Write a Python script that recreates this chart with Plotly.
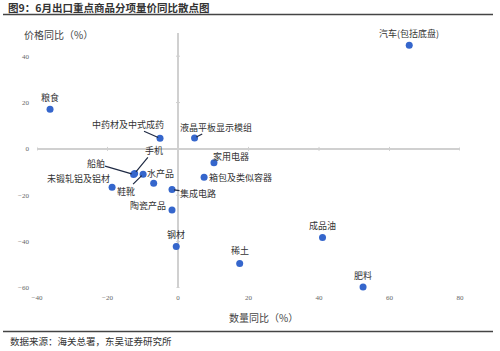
import plotly.graph_objects as go

# ---- data ----
names = ["汽车(包括底盘)", "粮食", "中药材及中式成药", "液晶平板显示模组", "家用电器",
         "船舶", "手机", "鞋靴", "水产品", "未锻轧铝及铝材", "集成电路", "陶瓷产品",
         "钢材", "稀土", "箱包及类似容器", "成品油", "肥料"]
qty_yoy = [65.6, -36.3, -5.1, 4.7, 10.2, -12.6, -12.3, -9.9, -6.9, -18.7, -1.7, -1.7,
           -0.5, 17.5, 7.4, 41.0, 52.5]
price_yoy = [44.7, 17.1, 4.6, 4.7, -6.0, -11.0, -10.6, -10.9, -14.8, -16.5, -17.5, -26.4,
             -42.1, -49.4, -12.2, -38.2, -59.6]
x_ticks = [-40, -20, 0, 20, 40, 60, 80]
y_ticks = [-60, -40, -20, 0, 20, 40]

title = "图9：6月出口重点商品分项量价同比散点图"
source = "数据来源：海关总署，东吴证券研究所"
x_title = "数量同比（%）"
y_title = "价格同比（%）"

# ---- label placement (pixel offsets of label centre from point; leader-line flag) ----
label_pos = {
    "汽车(包括底盘)": (0, -12, False),
    "粮食": (0, -12, False),
    "中药材及中式成药": (-32, -14, True),
    "液晶平板显示模组": (21, -11, True),
    "家用电器": (17, -6, False),
    "船舶": (-38, -11, True),
    "手机": (19, -23, True),
    "鞋靴": (-17, 17, True),
    "水产品": (7, -10, False),
    "未锻轧铝及铝材": (-34, -9, False),
    "集成电路": (26, 4, True),
    "陶瓷产品": (-24, -5, False),
    "钢材": (0, -12, False),
    "稀土": (0, -13, False),
    "箱包及类似容器": (36, 0, False),
    "成品油": (0, -12, False),
    "肥料": (0, -12, False),
}

CJK = "Noto Sans CJK SC"
W, H = 500, 351
ML, MR, MT, MB = 37, 40, 33, 63
plot_w, plot_h = W - ML - MR, H - MT - MB


def to_paper(xp, yp):
    return (xp - ML) / plot_w, (H - MB - yp) / plot_h


fig = go.Figure()
fig.add_trace(go.Scatter(
    x=qty_yoy, y=price_yoy, mode="markers", cliponaxis=False,
    marker=dict(color="#3566cc", size=7),
    hoverinfo="skip", showlegend=False))

annotations = []
for n, xv, yv in zip(names, qty_yoy, price_yoy):
    dx, dy, arrow = label_pos[n]
    common = dict(x=xv, y=yv, xref="x", yref="y", text=n,
                  font=dict(family=CJK, size=9, color="#333333"))
    if arrow:
        annotations.append(dict(**common, showarrow=True, ax=dx, ay=dy,
                                arrowhead=0, arrowwidth=1.2, arrowcolor="#1f2a44",
                                standoff=2, borderpad=0))
    else:
        annotations.append(dict(**common, showarrow=False, xshift=dx, yshift=-dy))

for txt, (xp, yp), size, color in [
    (y_title, (22, 34), 10, "#444444"),
    (x_title, (227, 317), 10, "#444444"),
    ("<b>" + title + "</b>", (6, 7.5), 10.5, "#333333"),
    (source, (8, 341), 9.5, "#333333"),
]:
    xf, yf = to_paper(xp, yp)
    annotations.append(dict(x=xf, y=yf, xref="paper", yref="paper", text=txt,
                            showarrow=False, xanchor="left", yanchor="middle",
                            font=dict(family=CJK, size=size, color=color)))

shapes = []
for t in x_ticks:
    shapes.append(dict(type="line", xref="x", yref="y", x0=t, x1=t, y0=-2, y1=2,
                       ysizemode="pixel", yanchor=0,
                       line=dict(color="#d0d0d0", width=1)))
for t in y_ticks:
    shapes.append(dict(type="line", xref="x", yref="y", y0=t, y1=t, x0=-2, x1=2,
                       xsizemode="pixel", xanchor=0,
                       line=dict(color="#d0d0d0", width=1)))
for yp in (14.5, 331.5):
    x0, y0 = to_paper(3, yp)
    x1, _ = to_paper(493, yp)
    shapes.append(dict(type="line", xref="paper", yref="paper",
                       x0=x0, x1=x1, y0=y0, y1=y0,
                       line=dict(color="#444444", width=1.5)))

fig.update_layout(
    width=W, height=H,
    margin=dict(l=ML, r=MR, t=MT, b=MB),
    paper_bgcolor="white", plot_bgcolor="white",
    xaxis=dict(range=[-40, 80], tickvals=x_ticks, showgrid=False,
               zeroline=True, zerolinecolor="#d0d0d0", zerolinewidth=1.5,
               showline=False, ticks="", ticklabelstandoff=4,
               tickfont=dict(family="Liberation Serif", size=7, color="#666666")),
    yaxis=dict(range=[-60, 50], tickvals=y_ticks, showgrid=False,
               zeroline=True, zerolinecolor="#d0d0d0", zerolinewidth=1.5,
               showline=False, ticks="", ticklabelstandoff=7,
               tickfont=dict(family="Liberation Serif", size=7, color="#666666")),
    annotations=annotations,
    shapes=shapes,
)

fig.write_html("out.html")
